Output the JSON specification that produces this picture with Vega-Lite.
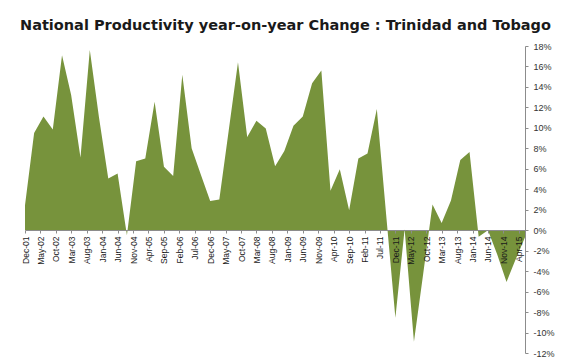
{
  "$schema": "https://vega.github.io/schema/vega-lite/v6.json",
  "autosize": {"type": "none"},
  "padding": {"left": 25, "top": 46, "right": 46, "bottom": 7},
  "width": 500,
  "height": 307,
  "background": "white",
  "config": {"view": {"stroke": null}},
  "title": {
    "text": "National Productivity year-on-year Change : Trinidad and Tobago",
    "anchor": "start",
    "frame": "group",
    "dx": -5,
    "dy": 19,
    "offset": 14,
    "baseline": "bottom",
    "font": "DejaVu Sans",
    "fontSize": 14.5,
    "fontWeight": "bold",
    "color": "#1a1a1a"
  },
  "data": {
    "values": [
      {"date": "2001-12-01", "change": 2.45},
      {"date": "2002-03-01", "change": 9.5},
      {"date": "2002-06-01", "change": 11.1},
      {"date": "2002-09-01", "change": 9.85},
      {"date": "2002-12-01", "change": 17.1},
      {"date": "2003-03-01", "change": 13.2},
      {"date": "2003-06-01", "change": 7.1},
      {"date": "2003-09-01", "change": 17.6},
      {"date": "2003-12-01", "change": 11.0},
      {"date": "2004-03-01", "change": 5.05},
      {"date": "2004-06-01", "change": 5.55},
      {"date": "2004-09-01", "change": -0.5},
      {"date": "2004-12-01", "change": 6.75},
      {"date": "2005-03-01", "change": 7.0},
      {"date": "2005-06-01", "change": 12.55},
      {"date": "2005-09-01", "change": 6.2},
      {"date": "2005-12-01", "change": 5.3},
      {"date": "2006-03-01", "change": 15.2},
      {"date": "2006-06-01", "change": 8.0},
      {"date": "2006-09-01", "change": 5.4},
      {"date": "2006-12-01", "change": 2.85},
      {"date": "2007-03-01", "change": 3.0},
      {"date": "2007-06-01", "change": 9.7},
      {"date": "2007-09-01", "change": 16.4},
      {"date": "2007-12-01", "change": 9.1},
      {"date": "2008-03-01", "change": 10.7},
      {"date": "2008-06-01", "change": 9.95},
      {"date": "2008-09-01", "change": 6.25},
      {"date": "2008-12-01", "change": 7.75},
      {"date": "2009-03-01", "change": 10.2},
      {"date": "2009-06-01", "change": 11.1},
      {"date": "2009-09-01", "change": 14.35},
      {"date": "2009-12-01", "change": 15.6},
      {"date": "2010-03-01", "change": 3.85},
      {"date": "2010-06-01", "change": 5.95},
      {"date": "2010-09-01", "change": 1.95},
      {"date": "2010-12-01", "change": 7.0},
      {"date": "2011-03-01", "change": 7.5},
      {"date": "2011-06-01", "change": 11.85},
      {"date": "2011-09-01", "change": 1.5},
      {"date": "2011-12-01", "change": -8.55},
      {"date": "2012-03-01", "change": 0.1},
      {"date": "2012-06-01", "change": -10.9},
      {"date": "2012-09-01", "change": -4.2},
      {"date": "2012-12-01", "change": 2.5},
      {"date": "2013-03-01", "change": 0.7},
      {"date": "2013-06-01", "change": 2.9},
      {"date": "2013-09-01", "change": 6.85},
      {"date": "2013-12-01", "change": 7.65},
      {"date": "2014-03-01", "change": -0.65},
      {"date": "2014-06-01", "change": 0.0},
      {"date": "2014-09-01", "change": -2.4},
      {"date": "2014-12-01", "change": -5.05},
      {"date": "2015-03-01", "change": -2.85},
      {"date": "2015-06-01", "change": -0.7}
    ],
    "format": {"parse": {"date": "date:'%Y-%m-%d'"}}
  },
  "mark": {"type": "area", "color": "#77933C", "interpolate": "linear"},
  "encoding": {
    "x": {
      "field": "date",
      "type": "temporal",
      "scale": {"nice": false},
      "axis": {
        "orient": "bottom",
        "offset": -123,
        "zindex": 1,
        "title": null,
        "grid": false,
        "format": "%b-%y",
        "labelAngle": 270,
        "labelAlign": "right",
        "labelBaseline": "middle",
        "labelFont": "Liberation Sans",
        "labelFontSize": 8.5,
        "labelColor": "#1a1a1a",
        "labelPadding": 3,
        "labelOverlap": false,
        "labelFlush": false,
        "tickSize": 3,
        "tickColor": "#8c8c8c",
        "domainColor": "#8c8c8c",
        "values": [
          {"year": 2001, "month": 12, "date": 1},
          {"year": 2002, "month": 5, "date": 1},
          {"year": 2002, "month": 10, "date": 1},
          {"year": 2003, "month": 3, "date": 1},
          {"year": 2003, "month": 8, "date": 1},
          {"year": 2004, "month": 1, "date": 1},
          {"year": 2004, "month": 6, "date": 1},
          {"year": 2004, "month": 11, "date": 1},
          {"year": 2005, "month": 4, "date": 1},
          {"year": 2005, "month": 9, "date": 1},
          {"year": 2006, "month": 2, "date": 1},
          {"year": 2006, "month": 7, "date": 1},
          {"year": 2006, "month": 12, "date": 1},
          {"year": 2007, "month": 5, "date": 1},
          {"year": 2007, "month": 10, "date": 1},
          {"year": 2008, "month": 3, "date": 1},
          {"year": 2008, "month": 8, "date": 1},
          {"year": 2009, "month": 1, "date": 1},
          {"year": 2009, "month": 6, "date": 1},
          {"year": 2009, "month": 11, "date": 1},
          {"year": 2010, "month": 4, "date": 1},
          {"year": 2010, "month": 9, "date": 1},
          {"year": 2011, "month": 2, "date": 1},
          {"year": 2011, "month": 7, "date": 1},
          {"year": 2011, "month": 12, "date": 1},
          {"year": 2012, "month": 5, "date": 1},
          {"year": 2012, "month": 10, "date": 1},
          {"year": 2013, "month": 3, "date": 1},
          {"year": 2013, "month": 8, "date": 1},
          {"year": 2014, "month": 1, "date": 1},
          {"year": 2014, "month": 6, "date": 1},
          {"year": 2014, "month": 11, "date": 1},
          {"year": 2015, "month": 4, "date": 1}
        ]
      }
    },
    "y": {
      "field": "change",
      "type": "quantitative",
      "scale": {"domain": [-12, 18], "nice": false, "zero": true},
      "axis": {
        "orient": "right",
        "title": null,
        "grid": false,
        "values": [-12, -10, -8, -6, -4, -2, 0, 2, 4, 6, 8, 10, 12, 14, 16, 18],
        "labelExpr": "datum.value + '%'",
        "labelFont": "Liberation Sans",
        "labelFontSize": 9,
        "labelColor": "#333333",
        "labelPadding": 5,
        "tickSize": 3,
        "tickColor": "#8c8c8c",
        "domainColor": "#8c8c8c"
      }
    }
  }
}
